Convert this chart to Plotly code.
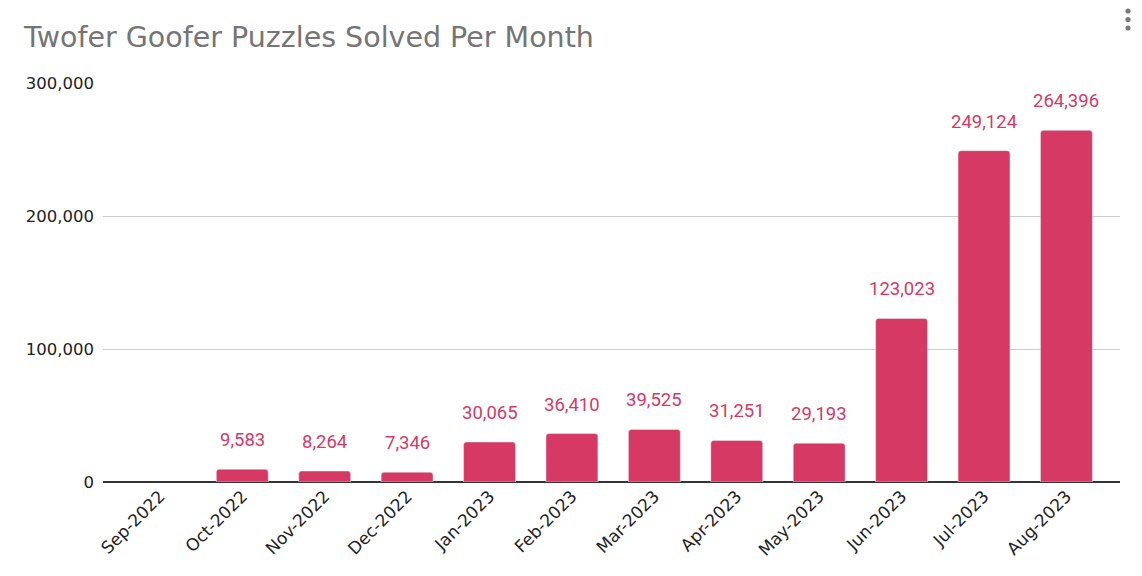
import plotly.graph_objects as go

months = ["Sep-2022", "Oct-2022", "Nov-2022", "Dec-2022", "Jan-2023", "Feb-2023",
          "Mar-2023", "Apr-2023", "May-2023", "Jun-2023", "Jul-2023", "Aug-2023"]
solved = [None, 9583, 8264, 7346, 30065, 36410, 39525, 31251, 29193, 123023, 249124, 264396]
y_ticks = [0, 100000, 200000, 300000]

BAR = "#d63964"
W, H = 1134, 568  # page body has an 8px margin
ML, MR, MT, MB = 95, 22, 75, 94
PW, PH = W - ML - MR, H - MT - MB

fig = go.Figure()
fig.add_trace(go.Bar(
    x=list(range(len(months))), y=solved, marker_color=BAR, width=0.63,
    hoverinfo="x+y",
))

for i, v in enumerate(solved):
    if v is None:
        continue
    fig.add_annotation(x=i, y=v, text=f"{v:,}", showarrow=False, yshift=29,
                       font=dict(family="Roboto", size=18.5, color=BAR))

# "more" menu icon (three vertical dots) in the top-right corner
for py in (3, 11.5, 20):
    fig.add_shape(type="circle", xref="paper", yref="paper",
                  xsizemode="pixel", ysizemode="pixel",
                  xanchor=(1120 - ML) / PW, yanchor=1 + (MT - py) / PH,
                  x0=-2.6, x1=2.6, y0=-2.6, y1=2.6,
                  fillcolor="#7a7a7a", line=dict(width=0))

fig.update_layout(
    width=W, height=H,
    margin=dict(l=ML, r=MR, t=MT, b=MB),
    paper_bgcolor="white", plot_bgcolor="white",
    barcornerradius=3,
    showlegend=False,
    title=dict(text="Twofer Goofer Puzzles Solved Per Month", x=16 / W, xanchor="left",
               y=1 - 29 / H, yanchor="middle",
               font=dict(family="DejaVu Sans", size=28.5, color="#757575")),
    xaxis=dict(tickmode="array", tickvals=list(range(len(months))), ticktext=months,
               range=[-0.69, 11.65], tickangle=-45, showgrid=False,
               tickfont=dict(family="DejaVu Sans", size=17, color="#222222"),
               showline=False, ticks=""),
    yaxis=dict(range=[0, 300000], tickvals=y_ticks, tickformat=",", showgrid=True,
               gridcolor="#cccccc", gridwidth=1, zeroline=True, zerolinecolor="#333333",
               zerolinewidth=1.5, ticklabelstandoff=8,
               tickfont=dict(family="DejaVu Sans", size=16.5, color="#222222"),
               ticks="", ticklen=0),
)

fig.write_html("out.html")
